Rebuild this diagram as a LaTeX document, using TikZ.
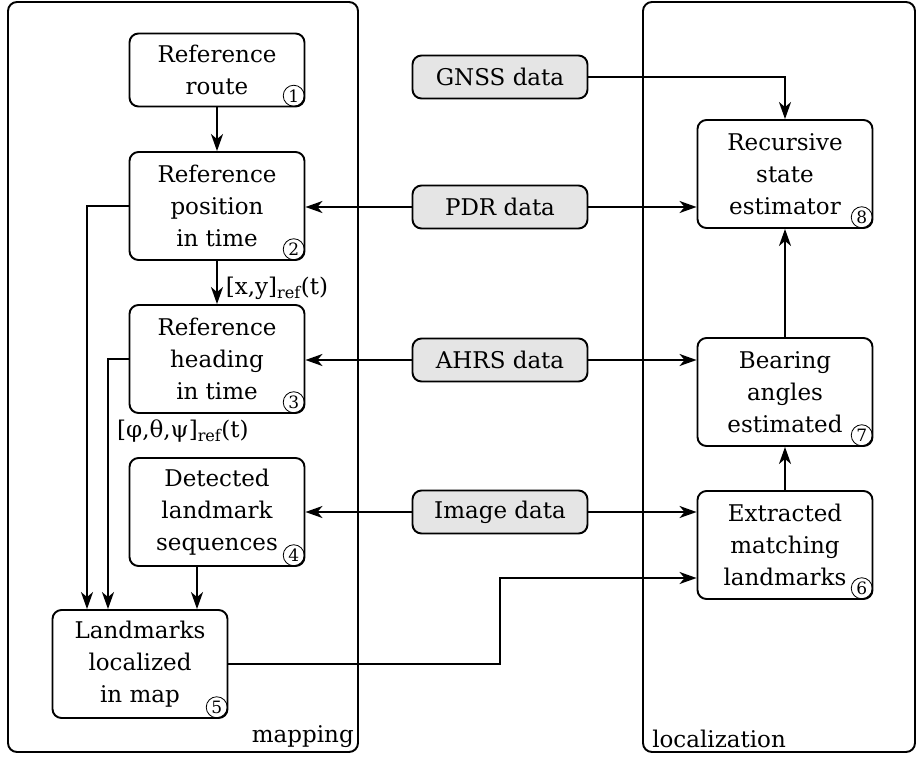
\documentclass[tikz,border=0pt]{standalone}
\usepackage{fontspec}
\setmainfont{DejaVu Serif}
\usetikzlibrary{arrows.meta,positioning}

\tikzset{
  proc/.style={draw, line width=1.9pt, rounded corners=9pt, minimum width=175pt,
    minimum height=108pt, align=center, inner sep=2pt},
  datbox/.style={proc, fill=black!10, minimum height=43pt},
  frame/.style={draw, line width=1.9pt, rounded corners=9pt},
  numtag/.style={circle, draw, line width=0.8pt, minimum size=21pt, inner sep=0pt,
    anchor=south east, xshift=-4pt, yshift=4pt, font=\fontsize{17}{17}\selectfont},
  flow/.style={line width=1.9pt, -{Stealth[length=17pt,width=12pt,inset=5pt]}},
}

\begin{document}
\begin{tikzpicture}[x=1pt,y=-1pt,font=\fontsize{23}{32}\selectfont]
  \useasboundingbox (0,0) rectangle (923,756);

  % the two stages
  \node[frame, minimum width=350pt, minimum height=750pt] (mapbox) at (183,377) {};
  \node[frame, minimum width=272pt, minimum height=750pt] (locbox) at (779,377) {};
  \node[anchor=south east, inner sep=5pt] (maplbl) at (mapbox.south east) {mapping};
  \node[anchor=south west, inner sep=5pt, xshift=5pt] (loclbl) at (locbox.south west) {localization};

  % mapping
  \node[proc, minimum height=73pt] (route) at (217,70) {Reference\\route};
  \node[proc] (pos) at (217,206) {Reference\\position\\in time};
  \node[proc] (head) at (217,359) {Reference\\heading\\in time};
  \node[proc] (detect) at (217,512) {Detected\\landmark\\sequences};
  \node[proc] (lmmap) at (140,664) {Landmarks\\localized\\in map};

  % sensor data
  \node[datbox] (gnss) at (500,77) {GNSS data};
  \node[datbox] (pdr) at (500,207) {PDR data};
  \node[datbox] (ahrs) at (500,360) {AHRS data};
  \node[datbox] (img) at (500,512) {Image data};

  % localization
  \node[proc] (rse) at (785,174) {Recursive\\state\\estimator};
  \node[proc] (bear) at (785,392) {Bearing\\angles\\estimated};
  \node[proc] (extr) at (785,545) {Extracted\\matching\\landmarks};

  % step numbers
  \node[numtag] (n1) at (route.south east) {1};
  \node[numtag] (n2) at (pos.south east) {2};
  \node[numtag] (n3) at (head.south east) {3};
  \node[numtag] (n4) at (detect.south east) {4};
  \node[numtag] (n5) at (lmmap.south east) {5};
  \node[numtag] (n6) at (extr.south east) {6};
  \node[numtag] (n7) at (bear.south east) {7};
  \node[numtag] (n8) at (rse.south east) {8};

  \draw[flow] (route) -- (pos);
  \draw[flow] (pos) -- node[right, inner sep=8pt, yshift=-6pt] (xylbl) {[x,y]\textsubscript{ref}(t)} (head);
  \draw[flow] (pos.west) -| ([xshift=-53pt]lmmap.north);
  \draw[flow] (head.west) -| ([xshift=-32pt]lmmap.north);
  \node[anchor=north west, inner sep=0pt] (anglbl) at (117,420) {[φ,θ,ψ]\textsubscript{ref}(t)};
  \draw[flow] ([xshift=-20pt]detect.south) -- ([xshift=57pt]lmmap.north);

  \draw[flow] (gnss.east) -| (rse.north);
  \draw[flow] (pdr.west) -- (pdr.west -| pos.east);
  \draw[flow] (pdr.east) -- (pdr.east -| rse.west);
  \draw[flow] (ahrs.west) -- (ahrs.west -| head.east);
  \draw[flow] (ahrs.east) -- (ahrs.east -| bear.west);
  \draw[flow] (img.west) -- (img.west -| detect.east);
  \draw[flow] (img.east) -- (img.east -| extr.west);
  \draw[flow] (lmmap.east) -| ([yshift=-33pt]extr.west -| img.south) -- ([yshift=-33pt]extr.west);
  \draw[flow] (extr) -- (bear);
  \draw[flow] (bear) -- (rse);
\end{tikzpicture}
\end{document}
